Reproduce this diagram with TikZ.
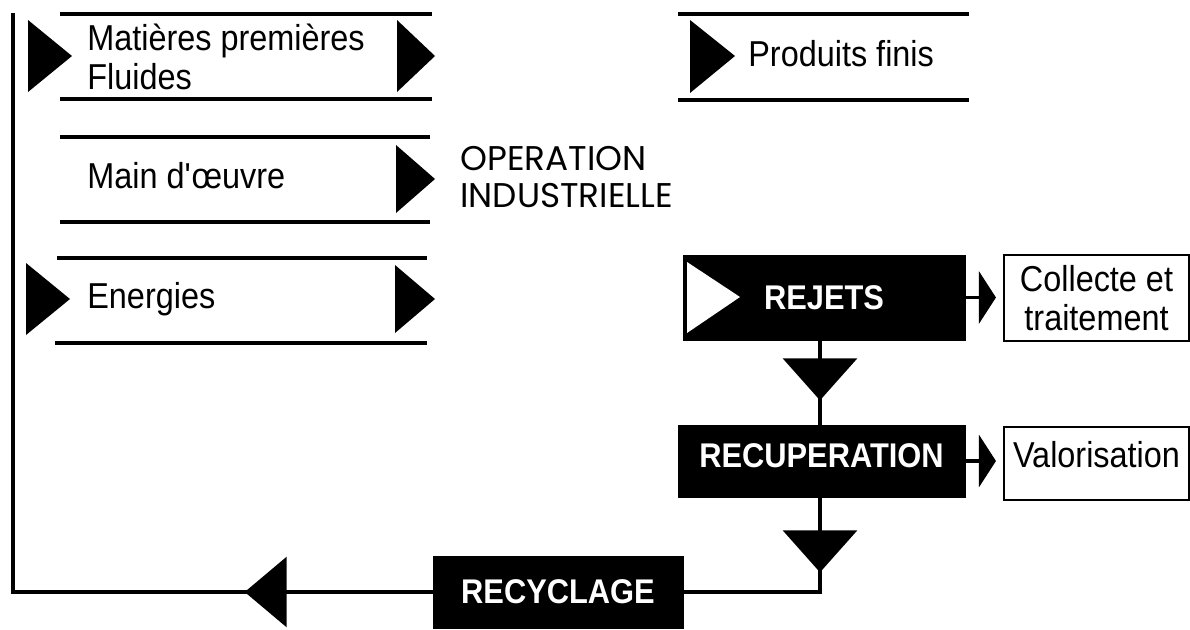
\documentclass[tikz,border=0pt]{standalone}
\usepackage{fontspec}
\setmainfont[FakeStretch=0.9]{Liberation Sans}
\newfontfamily\gothfont{Poppins}
\usetikzlibrary{arrows.meta,decorations.markings,positioning}

\tikzset{
  rule/.style={line width=2.3pt},
  flow/.style={line width=1.8pt},
  blackbox/.style={fill=black,draw=black,text=white,font=\fontsize{19.5}{22}\selectfont\bfseries,inner sep=0pt},
  whitebox/.style={draw=black,line width=1.2pt,align=center,inner sep=0pt},
  downtri/.style={postaction={decorate},decoration={markings,mark=at position #1 with {\arrow{Triangle[length=0.84cm,width=1.48cm]}}}},
  backtri/.style={postaction={decorate},decoration={markings,mark=at position #1 with {\arrow{Triangle[length=0.84cm,width=1.4cm]}}}},
  sidetip/.style={-{Triangle[length=0.34cm,width=1.04cm]},shorten >=0.14cm}
}

\begin{document}
\begin{tikzpicture}[x=0.02cm,y=-0.02cm,line join=miter,font=\fontsize{20.5}{22}\selectfont]
\clip (0,0) rectangle (1190,629);
\useasboundingbox (0,0) rectangle (1190,629);

% entrees
\draw[rule] (60,14)--(432,14) (60,99)--(432,99);
\fill (28,20)--(72,56)--(28,92)--cycle;
\fill (397,20)--(435,56)--(397,92)--cycle;
\node[anchor=west,align=left,inner sep=0pt] (matieres) at (87,57) {Matières premières\\Fluides};

\draw[rule] (60,137)--(430,137) (60,222)--(430,222);
\fill (396,145)--(435,179)--(396,213)--cycle;
\node[anchor=base west,inner sep=0pt] (main) at (87,188) {Main d\textquotesingle œuvre};

\draw[rule] (57,258)--(427,258) (55,343)--(427,343);
\fill (26,263)--(70,299)--(26,335)--cycle;
\fill (395,265)--(435,299)--(395,333)--cycle;
\node[anchor=base west,inner sep=0pt] (energies) at (87,308) {Energies};

\node[anchor=west,align=left,inner sep=0pt,font=\gothfont\fontsize{19.5}{21}\selectfont] (operation) at (460,177) {OPERATION\\INDUSTRIELLE};

% sortie
\draw[rule] (678,14)--(969,14) (678,100)--(969,100);
\fill (690,20)--(735,56)--(690,93)--cycle;
\node[anchor=base west,inner sep=0pt] (produits) at (748,66) {Produits finis};

% rejets
\node[blackbox,minimum width=5.64cm,minimum height=1.7cm] (rejets) at (824,297.5) {REJETS};
\fill[white] (687,262)--(740,297)--(687,333)--cycle;
\node[blackbox,minimum width=5.74cm,minimum height=1.44cm,text depth=6pt] (recup) at (821.5,461) {RECUPERATION};
\node[blackbox,minimum width=5cm,minimum height=1.44cm] (recyc) at (558,592) {RECYCLAGE};
\node[whitebox,minimum width=3.7cm,minimum height=1.72cm] (collecte) at (1096.5,298) {Collecte et\\traitement};
\node[whitebox,minimum width=3.7cm,minimum height=1.46cm,text depth=10pt] (valor) at (1096.5,463.5) {Valorisation};

\coordinate (cb) at (820,592);
\coordinate (lb) at (13,592);
\coordinate (lt) at (13,13);

\draw[flow,sidetip] (rejets.east) -- (rejets.east -| collecte.west);
\draw[flow,sidetip] (recup.east) -- (recup.east -| valor.west);
\draw[flow,downtri=1.2cm] (rejets.south -| cb) -- (recup.north -| cb);
\draw[flow,downtri=1.5cm] (recup.south -| cb) -- (cb) -- (recyc.east);
\draw[flow,backtri=3.76cm] (recyc.west) -- (lb) -- (lt);
\end{tikzpicture}
\end{document}
